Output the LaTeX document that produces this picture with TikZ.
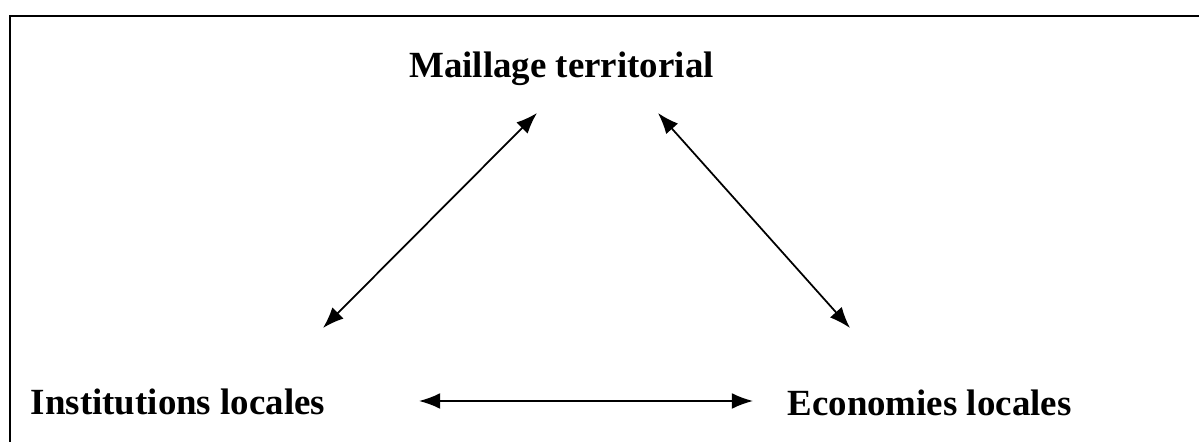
\documentclass[tikz,border=0pt]{standalone}
\usepackage{fontspec}
\setmainfont{Liberation Serif}
\usetikzlibrary{arrows.meta}
\begin{document}
\begin{tikzpicture}[
    lbl/.style={font=\bfseries\fontsize{21}{25}\selectfont, inner sep=0pt, anchor=base},
    link/.style={{Latex[length=12pt,width=9pt]}-{Latex[length=12pt,width=9pt]}, line width=1pt}
  ]
  \useasboundingbox (0,0) rectangle (23.98,8.84);

  % Frame
  \draw[line width=1.1pt] (0.2,0) -- (0.2,8.52) -- (23.98,8.52);

  % Labels
  \node[lbl] (mail) at (11.23,7.28) {Maillage territorial};
  \node[lbl] (inst) at (3.56,0.54) {Institutions locales};
  \node[lbl] (econ) at (18.59,0.52) {Economies locales};

  % Links
  \draw[link] ([shift={(2.90,1.74)}]inst.base) -- ([shift={(-0.49,-0.70)}]mail.base);
  \draw[link] ([shift={(1.93,-0.70)}]mail.base) -- ([shift={(-1.59,1.76)}]econ.base);
  \draw[link] ([shift={(4.82,0.28)}]inst.base) -- ([shift={(-3.53,0.30)}]econ.base);
\end{tikzpicture}
\end{document}
